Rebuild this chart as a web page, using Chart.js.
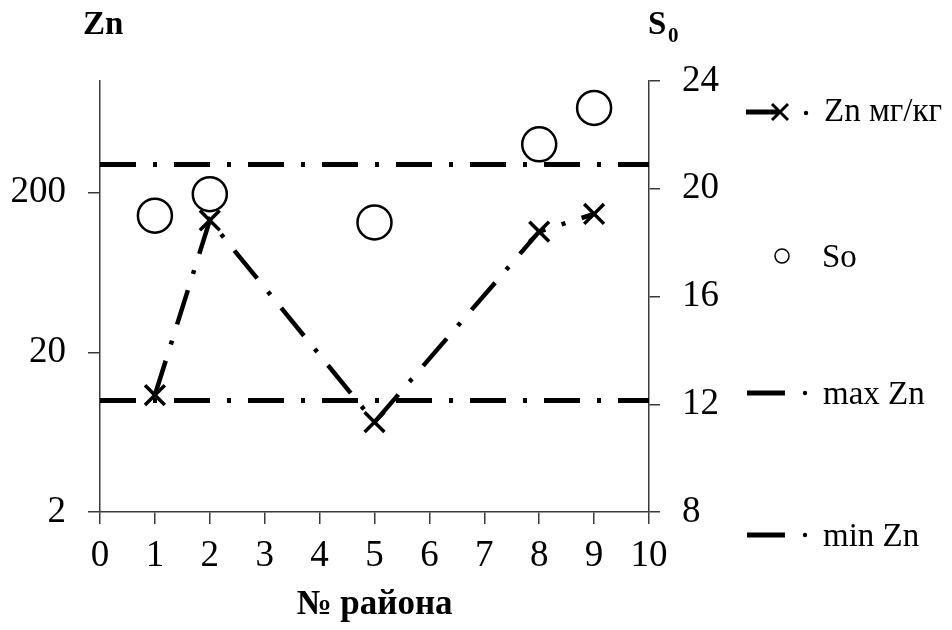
<!DOCTYPE html>
<html>
<head>
<meta charset="utf-8">
<script src="https://cdn.jsdelivr.net/npm/chart.js@4"></script>
<style>
  html, body { margin: 0; padding: 0; background: #fff; }
  #box { width: 952px; height: 630px; }
</style>
</head>
<body>
<div id="box"><canvas id="zn"></canvas></div>
<script>
// districts and measured values
const districts = [1, 2, 5, 8, 9];
const znValues = [10.8, 134, 7.3, 114, 147];   // Zn, mg/kg (left, log axis)
const soValues = [19.0, 19.8, 18.75, 21.65, 23.0]; // S0 (right axis)
const maxZn = 300;
const minZn = 10;
const xRange = [0, 10];
const znTicks = [2, 20, 200];

const SERIF = "'Liberation Serif', 'Times New Roman', serif";
const dashDot = [36, 17, 4, 17];

const pts = (xs, ys) => xs.map((x, i) => ({ x, y: ys[i] }));

// legend and axis captions are painted by hand
const captions = {
  id: 'captions',
  afterDraw(chart) {
    const ctx = chart.ctx;
    ctx.save();
    ctx.fillStyle = '#000';
    ctx.strokeStyle = '#000';
    ctx.textBaseline = 'middle';

    ctx.font = 'bold 33px ' + SERIF;
    ctx.textAlign = 'left';
    ctx.fillText('Zn', 83, 25);
    ctx.fillText('S', 648, 25);
    ctx.font = 'bold 21px ' + SERIF;
    ctx.fillText('0', 668, 37);

    ctx.font = 'bold 35px ' + SERIF;
    ctx.textAlign = 'center';
    ctx.fillText('№ района', (chart.chartArea.left + chart.chartArea.right) / 2, 605);

    // legend
    ctx.textAlign = 'left';
    ctx.font = '33px ' + SERIF;
    ctx.lineCap = 'butt';

    // Zn мг/кг
    ctx.lineWidth = 5;
    ctx.beginPath(); ctx.moveTo(746, 112); ctx.lineTo(778, 112); ctx.stroke();
    ctx.lineWidth = 3;
    ctx.beginPath();
    ctx.moveTo(772, 104); ctx.lineTo(788, 120);
    ctx.moveTo(772, 120); ctx.lineTo(788, 104);
    ctx.stroke();
    ctx.beginPath(); ctx.arc(806, 113, 2.2, 0, Math.PI * 2); ctx.fill();
    ctx.fillText('Zn мг/кг', 824, 112);

    // So
    ctx.lineWidth = 1.5;
    ctx.beginPath(); ctx.arc(782, 256, 7, 0, Math.PI * 2); ctx.stroke();
    ctx.fillText('So', 822, 258);

    // max / min Zn
    [[393, 'max Zn'], [535, 'min Zn']].forEach(([y, label]) => {
      ctx.lineWidth = 5;
      ctx.beginPath(); ctx.moveTo(747, y); ctx.lineTo(785, y); ctx.stroke();
      ctx.beginPath(); ctx.arc(805, y, 2.2, 0, Math.PI * 2); ctx.fill();
      ctx.fillText(label, 823, y + 2);
    });
    ctx.restore();
  }
};

const axisColor = '#3a3a3a';

new Chart(document.getElementById('zn'), {
  type: 'line',
  data: {
    datasets: [
      {
        label: 'Zn мг/кг',
        data: pts(districts, znValues),
        yAxisID: 'y',
        borderColor: '#000',
        borderWidth: 4.5,
        borderDash: dashDot,
        pointStyle: 'crossRot',
        pointRadius: 14,
        pointBorderWidth: 3.5,
        pointBorderColor: '#000',
        tension: 0
      },
      {
        label: 'So',
        data: pts(districts, soValues),
        yAxisID: 'y1',
        showLine: false,
        pointStyle: 'circle',
        pointRadius: 17,
        pointBorderWidth: 2.5,
        pointBorderColor: '#000',
        pointBackgroundColor: 'rgba(0,0,0,0)'
      },
      {
        label: 'max Zn',
        data: pts(xRange, [maxZn, maxZn]),
        yAxisID: 'y',
        borderColor: '#000',
        borderWidth: 5,
        borderDash: dashDot,
        pointRadius: 0
      },
      {
        label: 'min Zn',
        data: pts(xRange, [minZn, minZn]),
        yAxisID: 'y',
        borderColor: '#000',
        borderWidth: 5,
        borderDash: dashDot,
        pointRadius: 0
      }
    ]
  },
  options: {
    responsive: true,
    maintainAspectRatio: false,
    animation: false,
    layout: { padding: { top: 81, left: 0, right: 0, bottom: 0 } },
    plugins: {
      legend: { display: false },
      tooltip: { enabled: false }
    },
    scales: {
      x: {
        type: 'linear',
        min: 0,
        max: 10,
        ticks: { stepSize: 1, color: '#000', padding: 10, font: { family: SERIF, size: 37 } },
        grid: { drawOnChartArea: false, tickLength: 12, color: axisColor, lineWidth: 1.5 },
        border: { color: axisColor, width: 1.5 },
        afterFit(scale) { scale.height = 118; }
      },
      y: {
        type: 'logarithmic',
        position: 'left',
        min: 2,
        max: 1000,
        afterBuildTicks(scale) { scale.ticks = znTicks.map(v => ({ value: v })); },
        ticks: {
          color: '#000',
          padding: 22,
          font: { family: SERIF, size: 37 },
          callback: v => String(v)
        },
        grid: { drawOnChartArea: false, tickLength: 12, color: axisColor, lineWidth: 1.5 },
        border: { color: axisColor, width: 1.5 },
        afterFit(scale) { scale.width = 100; }
      },
      y1: {
        type: 'linear',
        position: 'right',
        min: 8,
        max: 24,
        ticks: { stepSize: 4, color: '#000', padding: 22, font: { family: SERIF, size: 37 } },
        grid: { drawOnChartArea: false, tickLength: 11, color: axisColor, lineWidth: 1.5 },
        border: { color: axisColor, width: 1.5 },
        afterFit(scale) { scale.width = 303; }
      }
    }
  },
  plugins: [captions]
});
</script>
</body>
</html>
